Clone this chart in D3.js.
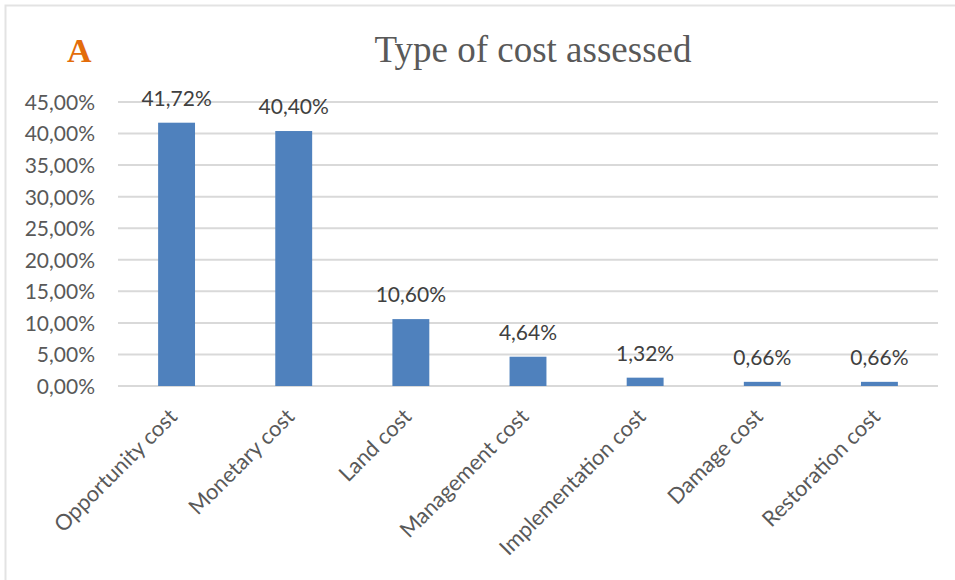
<!DOCTYPE html>
<html>
<head>
<meta charset="utf-8">
<script src="https://cdn.jsdelivr.net/npm/d3@7"></script>
<style>
  html, body { margin: 0; padding: 0; background: #fff; }
  svg { display: block; }
</style>
</head>
<body>
<svg id="chart" width="955" height="580"></svg>
<script>
// Share of studies by type of cost assessed
const categories = ["Opportunity cost", "Monetary cost", "Land cost", "Management cost",
                    "Implementation cost", "Damage cost", "Restoration cost"];
const shares = [41.72, 40.40, 10.60, 4.64, 1.32, 0.66, 0.66];
const yTicks = [0, 5, 10, 15, 20, 25, 30, 35, 40, 45];

const svg = d3.select("#chart");
const W = 955, H = 580;
const plot = { left: 118, right: 938, top: 102, bottom: 386 };
const fmt = v => v.toFixed(2).replace(".", ",") + "%";
const textColor = "#595959";
const sans = "Lato, 'Open Sans', sans-serif";
const fs = 21;

// Outer frame (runs off the right and bottom edge)
svg.append("rect")
  .attr("x", 5.5).attr("y", 5.5)
  .attr("width", W + 10).attr("height", H + 10)
  .attr("fill", "#fff").attr("stroke", "#e3e3e3").attr("stroke-width", 2);

const x = d3.scaleBand().domain(categories).range([plot.left, plot.right]).paddingInner(0.685).paddingOuter(0.3425);
const y = d3.scaleLinear().domain([0, 45]).range([plot.bottom, plot.top]);

// Gridlines
svg.append("g")
  .selectAll("line").data(yTicks).join("line")
  .attr("x1", plot.left).attr("x2", plot.right)
  .attr("y1", d => y(d)).attr("y2", d => y(d))
  .attr("stroke", "#d9d9d9").attr("stroke-width", 2);

// Y axis labels
const yAxis = d3.axisLeft(y).tickValues(yTicks).tickFormat(fmt).tickSize(0).tickPadding(0);
const gy = svg.append("g").attr("transform", `translate(${95},0)`).call(yAxis);
gy.select(".domain").remove();
gy.selectAll("text")
  .attr("fill", textColor).attr("font-family", sans).attr("font-size", fs)
  .attr("dy", "0.35em");

// Bars
svg.append("g")
  .selectAll("rect").data(shares).join("rect")
  .attr("x", (d, i) => x(categories[i]))
  .attr("width", x.bandwidth())
  .attr("y", d => y(d))
  .attr("height", d => y(0) - y(d))
  .attr("fill", "#4f81bd");

// Value labels
svg.append("g")
  .selectAll("text").data(shares).join("text")
  .attr("x", (d, i) => x(categories[i]) + x.bandwidth() / 2)
  .attr("y", d => y(d) - 17)
  .attr("text-anchor", "middle")
  .attr("fill", "#404040").attr("font-family", sans).attr("font-size", fs)
  .text(fmt);

// Category labels, rotated
const xAxis = d3.axisBottom(x).tickSize(0).tickPadding(0);
const gx = svg.append("g").attr("transform", `translate(0,${plot.bottom})`).call(xAxis);
gx.select(".domain").remove();
gx.selectAll("text")
  .attr("fill", textColor).attr("font-family", sans).attr("font-size", 21.8)
  .attr("text-anchor", "end")
  .attr("dy", 0)
  .attr("transform", "translate(2,32) rotate(-45)");

// Titles
svg.append("text")
  .attr("x", 533).attr("y", 62)
  .attr("text-anchor", "middle")
  .attr("font-family", "'Liberation Serif', 'Times New Roman', serif")
  .attr("font-size", 37).attr("fill", "#595959")
  .text("Type of cost assessed");

svg.append("text")
  .attr("x", 67).attr("y", 62)
  .attr("font-family", "'Liberation Serif', 'Times New Roman', serif")
  .attr("font-weight", "bold")
  .attr("font-size", 34).attr("fill", "#e36c0a")
  .text("A");
</script>
</body>
</html>
